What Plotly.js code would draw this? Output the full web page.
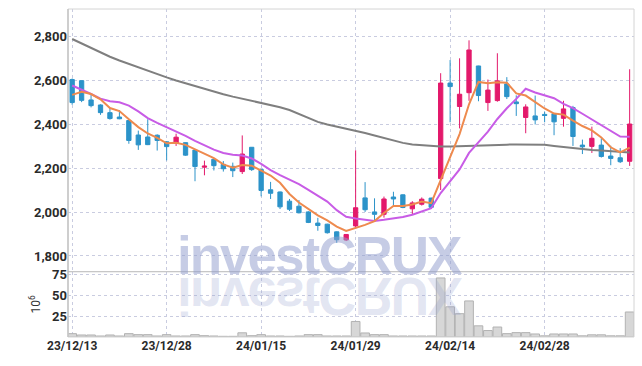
<!DOCTYPE html>
<html><head><meta charset="utf-8">
<script src="https://cdn.plot.ly/plotly-3.0.1.min.js"></script>
<style>
html,body{margin:0;padding:0;background:#fff;}
#wrap{position:relative;width:642px;height:366px;overflow:hidden;}
#chart{width:642px;height:366px;}
.wm{position:absolute;left:177px;top:229px;font-family:"Liberation Sans",Arial,sans-serif;font-weight:bold;font-size:53px;line-height:53px;pointer-events:none;white-space:nowrap;letter-spacing:-2px;}
#wm1{color:rgba(145,157,205,0.52);}
#wm2{color:rgba(145,157,205,0.26);transform:scaleY(-1);transform-origin:50% 47px;}
</style></head>
<body><div id="wrap"><div id="chart"></div>
<div class="wm" id="wm1">investCRUX</div>
<div class="wm" id="wm2">investCRUX</div></div>
<script>
const dates = ['23/12/13','23/12/14','23/12/15','23/12/18','23/12/19','23/12/20','23/12/21','23/12/22','23/12/26','23/12/27','23/12/28',
'24/01/02','24/01/03','24/01/04','24/01/05','24/01/08','24/01/09','24/01/10','24/01/11','24/01/12','24/01/15',
'24/01/16','24/01/17','24/01/18','24/01/19','24/01/22','24/01/23','24/01/24','24/01/25','24/01/26','24/01/29',
'24/01/30','24/01/31','24/02/01','24/02/02','24/02/05','24/02/06','24/02/07','24/02/08','24/02/13','24/02/14',
'24/02/15','24/02/16','24/02/19','24/02/20','24/02/21','24/02/22','24/02/23','24/02/26','24/02/27','24/02/28',
'24/02/29','24/03/04','24/03/05','24/03/06','24/03/07','24/03/08','24/03/11','24/03/12','24/03/13'];
const openP = [2605,2600,2512,2489,2454,2434,2418,2352,2343,2351,2321,2315,2317,2283,2205,2241,2218,2209,2185,2296,2195,2102,2092,2050,2027,2001,1950,1945,1910,1873,1937,2065,2001,1990,2069,2079,2015,2036,2064,2153,2589,2482,2545,2667,2500,2509,2585,2503,2432,2439,2446,2449,2428,2477,2306,2300,2306,2256,2248,2232];
const highP = [2610,2600,2535,2492,2477,2466,2420,2372,2424,2355,2323,2358,2318,2285,2235,2243,2233,2226,2350,2297,2197,2138,2094,2060,2055,2004,1974,1947,1912,1900,2282,2137,2063,2071,2093,2081,2050,2067,2066,2634,2694,2702,2784,2668,2605,2725,2616,2533,2492,2532,2458,2452,2508,2485,2331,2390,2337,2303,2292,2652];
const lowP = [2490,2502,2478,2444,2422,2424,2312,2284,2306,2281,2236,2302,2257,2141,2168,2190,2185,2160,2174,2188,2072,2060,2014,2005,1994,1950,1915,1902,1860,1868,1924,2001,1962,1975,2030,2018,1990,2030,2019,2101,2410,2382,2508,2506,2462,2504,2516,2439,2360,2400,2410,2351,2390,2302,2265,2270,2249,2214,2224,2211];
const closeP = [2500,2510,2486,2454,2427,2426,2327,2307,2308,2327,2299,2342,2260,2208,2210,2212,2198,2189,2265,2194,2099,2086,2024,2013,1997,1953,1939,1906,1874,1898,2020,2011,1990,2060,2060,2021,2042,2059,2022,2589,2573,2538,2740,2532,2557,2599,2527,2495,2480,2421,2441,2412,2471,2345,2298,2337,2254,2245,2230,2402];
const ma5 = [2535,2549,2539,2515,2475,2461,2424,2388,2359,2339,2314,2317,2307,2287,2264,2246,2218,2203,2215,2212,2189,2167,2134,2083,2044,2015,1985,1962,1934,1914,1927,1942,1959,1996,2028,2028,2035,2048,2041,2147,2257,2356,2492,2594,2588,2593,2591,2542,2532,2504,2473,2450,2445,2418,2393,2373,2341,2296,2273,2294];
const ma10 = [2578,2560,2539,2518,2506,2501,2486,2460,2429,2407,2387,2370,2348,2325,2304,2285,2270,2262,2258,2245,2220,2192,2169,2149,2128,2102,2076,2048,2009,1979,1971,1964,1960,1965,1971,1978,1988,2004,2018,2087,2143,2195,2270,2318,2367,2425,2474,2517,2563,2546,2533,2520,2494,2475,2449,2423,2395,2370,2345,2344];
const maLong = [2790,2769,2748,2728,2709,2692,2676,2660,2644,2629,2615,2601,2588,2574,2561,2549,2538,2527,2518,2509,2500,2490,2479,2466,2447,2428,2412,2400,2391,2381,2371,2361,2350,2338,2326,2316,2309,2305,2301,2299,2299,2301,2303,2305,2306,2307,2308,2309,2309,2308,2307,2302,2297,2292,2288,2284,2281,2278,2275,2272];
const volume = [4.0,2.4,2.4,1.2,2.4,1.2,4.0,2.8,2.8,1.2,2.8,1.2,1.2,2.8,1.6,1.2,0.8,0.8,5.0,1.6,2.8,1.2,1.2,0.8,1.2,2.8,2.8,1.2,1.2,1.2,18.5,4.8,2.8,2.8,1.2,1.2,1.2,1.2,1.2,70.4,36,27.8,43,13.3,7.7,11.9,4,5.2,5.2,3.6,1.4,3.6,3.6,3.6,1.4,2.6,2.6,1.4,1.4,29.8];
const xTicks = ['23/12/13','23/12/28','24/01/15','24/01/29','24/02/14','24/02/28'];
const priceTicks = [1800,2000,2200,2400,2600,2800];
const volTicks = [25,50,75];

const UP = '#e3196b', DOWN = '#2c93c9';
const grid = '#c9cce0';
const tf = {family:'Roboto, "Liberation Sans", sans-serif', size:13, color:'#2a2a2a', weight:'bold'};

const traces = [
  {type:'bar', x:dates, y:volume, xaxis:'x', yaxis:'y2', marker:{color:'#d7d7d7', line:{color:'#b2b2b2', width:1}}, hoverinfo:'skip'},
  {type:'scatter', mode:'lines', x:dates, y:maLong, xaxis:'x', yaxis:'y', line:{color:'#7f7f7f', width:2}, hoverinfo:'skip'},
  {type:'candlestick', x:dates, open:openP, high:highP, low:lowP, close:closeP, xaxis:'x', yaxis:'y',
   increasing:{line:{color:UP, width:1}, fillcolor:UP}, decreasing:{line:{color:DOWN, width:1}, fillcolor:DOWN},
   whiskerwidth:0, hoverinfo:'skip'},
  {type:'scatter', mode:'lines', x:dates, y:ma10, xaxis:'x', yaxis:'y', line:{color:'#c85ce6', width:2}, hoverinfo:'skip'},
  {type:'scatter', mode:'lines', x:dates, y:ma5, xaxis:'x', yaxis:'y', line:{color:'#ee8a4e', width:2}, hoverinfo:'skip'}
];

const layout = {
  width:642, height:366, margin:{l:68, r:8, t:9, b:29},
  paper_bgcolor:'#fff', plot_bgcolor:'#fff', showlegend:false,
  bargap:0.08, boxgap:0.35,
  xaxis:{type:'category', categoryorder:'array', categoryarray:dates, range:[-0.44, 59.46], anchor:'y2',
    tickvals:xTicks, ticktext:xTicks, showgrid:true, gridcolor:grid, griddash:'dot', gridwidth:1,
    ticks:'', tickfont:{family:tf.family, size:12, color:tf.color, weight:'bold'}, zeroline:false,
    rangeslider:{visible:false}, showline:false},
  yaxis:{domain:[0.199,1], range:[1728,2927], tickvals:priceTicks, tickformat:',d', showgrid:true,
    gridcolor:grid, griddash:'dot', ticks:'', tickfont:tf, zeroline:false, showline:false},
  yaxis2:{domain:[0,0.199], range:[0,77.8], tickvals:volTicks, showgrid:true, gridcolor:grid, griddash:'dot',
    ticks:'', tickfont:tf, zeroline:false, showline:false,
    title:{text:'10<sup>6</sup>', font:{family:'Roboto, sans-serif', size:12, color:'#333'}, standoff:8}},
  shapes:[
    {type:'rect', xref:'paper', yref:'paper', x0:0, x1:1, y0:0, y1:1, line:{color:'#d4d4d4', width:1}},
    {type:'line', xref:'paper', yref:'paper', x0:0, x1:0, y0:0, y1:1, line:{color:'#c4c4c4', width:1.5}},
    {type:'line', xref:'paper', yref:'paper', x0:0, x1:1, y0:0.199, y1:0.199, line:{color:'#b8b8b8', width:1}}
  ]
};
Plotly.newPlot('chart', traces, layout, {staticPlot:true, displayModeBar:false});
</script>
</body></html>
